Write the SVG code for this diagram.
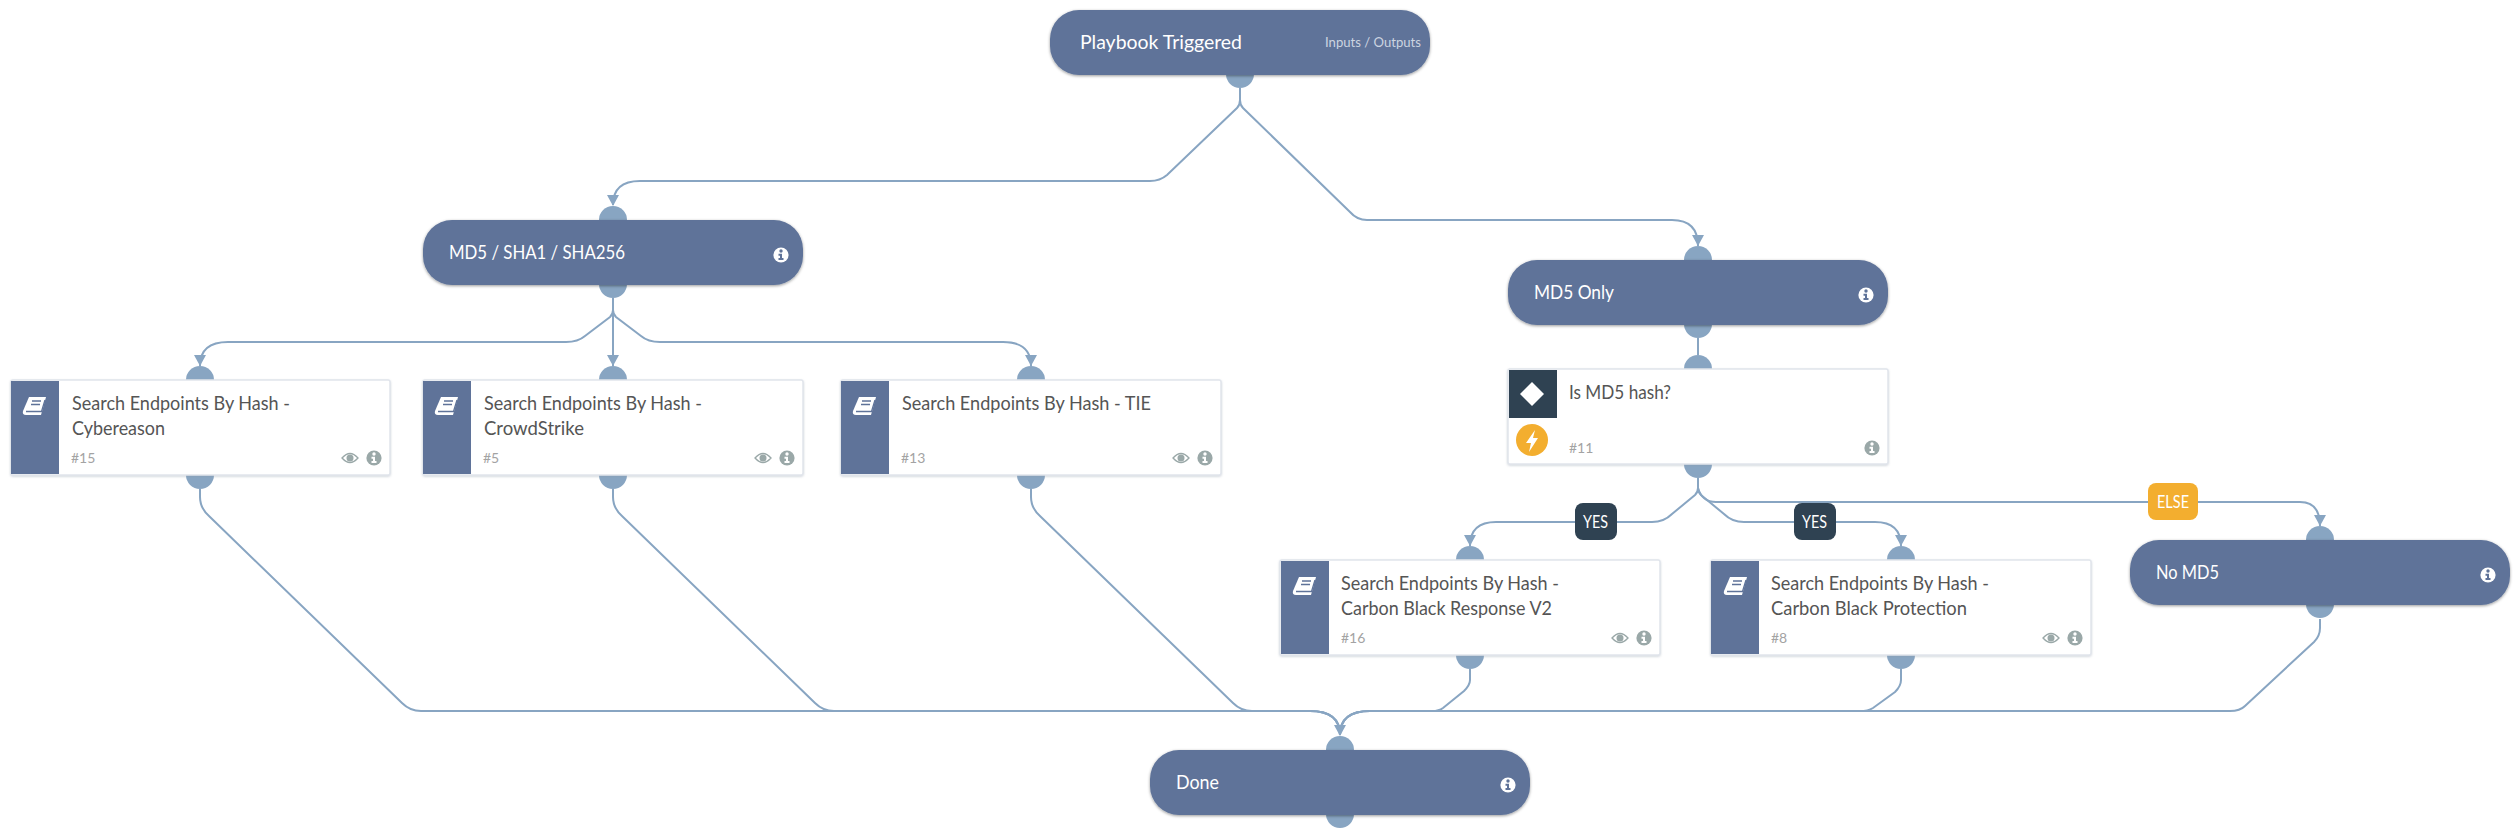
<svg xmlns="http://www.w3.org/2000/svg" width="2520" height="839" viewBox="0 0 2520 839">
<style>
text{font-family:"Lato","Noto Sans","Liberation Sans",sans-serif}
.pill{fill:#5f7399;filter:url(#ps)}
.card{fill:#fff;stroke:#e1e5ec;stroke-width:1.5;filter:url(#cs)}
.band{fill:#5f7399}
.port{fill:#88a5c2}
.pt{fill:#fff;font-size:20px}
.ct{fill:#555;font-size:20px}
.num{fill:#a3a3a3;font-size:14px}
.io{fill:#cdd5e1;font-size:14px}
.lab{fill:#fff;font-size:17px}
.con{fill:none;stroke:#88a5c2;stroke-width:2}
.ar{fill:#88a5c2}
</style>
<defs>
<filter id="ps" x="-5%" y="-20%" width="110%" height="140%"><feDropShadow dx="0" dy="1" stdDeviation="1.5" flood-color="#000" flood-opacity=".4"/></filter>
<filter id="cs" x="-5%" y="-10%" width="110%" height="125%"><feDropShadow dx="0" dy="1" stdDeviation="1" flood-color="#8a97a8" flood-opacity=".4"/></filter>
<g id="book"><path d="M6 0H23L18 18H3Q-1 18 0 14Z" fill="#fff"/><path d="M3 14.500H18.500L22 3" fill="none" stroke="#5f7399" stroke-width="1.300"/><path d="M9 4H18M8 7.500H17" stroke="#5f7399" stroke-width="1.500"/></g>
<g id="info"><circle r="7.600" fill="#9aa8a8"/><circle cy="-4" r="1.700" fill="#fff"/><path d="M-2.500 -1.200H1V3H2.500V5H-2.500V3H-1V.8H-2.500Z" fill="#fff"/></g>
<g id="infow"><circle r="7.600" fill="#fff"/><circle cy="-4" r="1.700" fill="#5f7399"/><path d="M-2.500 -1.200H1V3H2.500V5H-2.500V3H-1V.8H-2.500Z" fill="#5f7399"/></g>
<g id="eye"><path d="M-8 0Q0 -9 8 0Q0 9 -8 0Z" fill="none" stroke="#9aa8a8" stroke-width="1.300"/><circle r="3.500" fill="#9aa8a8"/></g>
<path id="ah" d="M-6 -11H6L0 0Z"/>
</defs>
<g id="connectors">
<path class="con" d="M1240 88V100Q1240 105 1237 108L1167 175Q1160 181 1150 181H640Q613 181 613 205"/>
<path class="con" d="M1240 88V100Q1240 105 1243 108L1350 212Q1357 220 1367 220H1672Q1698 220 1698 246"/>
<path class="con" d="M613 298V310Q613 314 610 317L585 336Q578 342 566 342H228Q200 342 200 366"/>
<path class="con" d="M613 298V366"/>
<path class="con" d="M613 298V310Q613 314 616 317L641 336Q648 342 660 342H1003Q1031 342 1031 366"/>
<path class="con" d="M1698 338V355"/>
<path class="con" d="M1698 478V488Q1698 492 1695 495L1672 514Q1664 522 1652 522H1496Q1470 522 1470 546"/>
<path class="con" d="M1698 478V488Q1698 492 1701 495L1724 514Q1732 522 1744 522H1875Q1901 522 1901 546"/>
<path class="con" d="M1698 478V488Q1702 502 1716 502H2300Q2320 502 2320 526"/>
<path class="con" d="M200 489V497Q200 508 209 516L402 703Q410 711 421 711H1310Q1340 711 1340 735"/>
<path class="con" d="M613 489V497Q613 508 622 516L815 703Q823 711 834 711H1310Q1340 711 1340 735"/>
<path class="con" d="M1031 489V497Q1031 508 1040 516L1233 703Q1241 711 1252 711H1310Q1340 711 1340 735"/>
<path class="con" d="M1470 669V680Q1470 685 1464 691L1443 708Q1439 711 1432 711H1370Q1340 711 1340 735"/>
<path class="con" d="M1901 669V680Q1901 686 1895 692L1873 708Q1868 711 1860 711H1370Q1340 711 1340 735"/>
<path class="con" d="M2320 619V628Q2320 636 2314 642L2245 706Q2240 711 2230 711H1370Q1340 711 1340 735"/>
<use href="#ah" class="ar" x="613" y="206"/><use href="#ah" class="ar" x="1698" y="246"/><use href="#ah" class="ar" x="200" y="366"/><use href="#ah" class="ar" x="613" y="366"/><use href="#ah" class="ar" x="1031" y="366"/><use href="#ah" class="ar" x="1470" y="546"/><use href="#ah" class="ar" x="1901" y="546"/><use href="#ah" class="ar" x="2320" y="526"/><use href="#ah" class="ar" x="1340" y="736"/>
</g>
<g id="node-start"><circle class="port" cx="1240" cy="74" r="14"/><rect class="pill" x="1050" y="10" width="380" height="65" rx="29"/><text class="pt" x="1080" y="49" textLength="162" lengthAdjust="spacingAndGlyphs">Playbook Triggered</text><text class="io" x="1325" y="47" textLength="96" lengthAdjust="spacingAndGlyphs">Inputs / Outputs</text></g>
<g id="node-md5sha"><circle class="port" cx="613" cy="220" r="14"/><circle class="port" cx="613" cy="284" r="14"/><rect class="pill" x="423" y="220" width="380" height="65" rx="29"/><text class="pt" x="449" y="259" textLength="176" lengthAdjust="spacingAndGlyphs">MD5 / SHA1 / SHA256</text><use href="#infow" x="781" y="255"/></g>
<g id="node-md5only"><circle class="port" cx="1698" cy="260" r="14"/><circle class="port" cx="1698" cy="324" r="14"/><rect class="pill" x="1508" y="260" width="380" height="65" rx="29"/><text class="pt" x="1534" y="299" textLength="80" lengthAdjust="spacingAndGlyphs">MD5 Only</text><use href="#infow" x="1866" y="295"/></g>
<g id="node-15"><circle class="port" cx="200" cy="380" r="14"/><circle class="port" cx="200" cy="475" r="14"/><rect class="card" x="11" y="380" width="379" height="95" rx="2"/><rect class="band" x="11" y="381" width="48" height="93"/><use href="#book" x="23" y="397"/><text class="ct" x="72" y="410" textLength="218" lengthAdjust="spacingAndGlyphs">Search Endpoints By Hash -</text><text class="ct" x="72" y="435" textLength="93" lengthAdjust="spacingAndGlyphs">Cybereason</text><text class="num" x="71" y="463">#15</text><use href="#eye" x="350" y="458"/><use href="#info" x="374" y="458"/></g>
<g id="node-5"><circle class="port" cx="613" cy="380" r="14"/><circle class="port" cx="613" cy="475" r="14"/><rect class="card" x="423" y="380" width="380" height="95" rx="2"/><rect class="band" x="423" y="381" width="48" height="93"/><use href="#book" x="435" y="397"/><text class="ct" x="484" y="410" textLength="218" lengthAdjust="spacingAndGlyphs">Search Endpoints By Hash -</text><text class="ct" x="484" y="435" textLength="100" lengthAdjust="spacingAndGlyphs">CrowdStrike</text><text class="num" x="483" y="463">#5</text><use href="#eye" x="763" y="458"/><use href="#info" x="787" y="458"/></g>
<g id="node-13"><circle class="port" cx="1031" cy="380" r="14"/><circle class="port" cx="1031" cy="475" r="14"/><rect class="card" x="841" y="380" width="380" height="95" rx="2"/><rect class="band" x="841" y="381" width="48" height="93"/><use href="#book" x="853" y="397"/><text class="ct" x="902" y="410" textLength="249" lengthAdjust="spacingAndGlyphs">Search Endpoints By Hash - TIE</text><text class="num" x="901" y="463">#13</text><use href="#eye" x="1181" y="458"/><use href="#info" x="1205" y="458"/></g>
<g id="node-11"><circle class="port" cx="1698" cy="369" r="14"/><circle class="port" cx="1698" cy="464" r="14"/><rect class="card" x="1508" y="369" width="380" height="95" rx="2"/><rect x="1509" y="370" width="48" height="48" fill="#2f4252"/><path d="M1532 382L1544 394L1532 406L1520 394Z" fill="#fff"/><circle cx="1532" cy="440" r="16" fill="#f3ae2f"/><path d="M1535 430L1526 443H1531L1529 452L1538 438H1533Z" fill="#fff"/><text class="ct" x="1569" y="399" textLength="102" lengthAdjust="spacingAndGlyphs">Is MD5 hash?</text><text class="num" x="1569" y="453">#11</text><use href="#info" x="1872" y="448"/></g>
<g id="node-16"><circle class="port" cx="1470" cy="560" r="14"/><circle class="port" cx="1470" cy="655" r="14"/><rect class="card" x="1280" y="560" width="380" height="95" rx="2"/><rect class="band" x="1281" y="561" width="48" height="93"/><use href="#book" x="1293" y="577"/><text class="ct" x="1341" y="590" textLength="218" lengthAdjust="spacingAndGlyphs">Search Endpoints By Hash -</text><text class="ct" x="1341" y="615" textLength="211" lengthAdjust="spacingAndGlyphs">Carbon Black Response V2</text><text class="num" x="1341" y="643">#16</text><use href="#eye" x="1620" y="638"/><use href="#info" x="1644" y="638"/></g>
<g id="node-8"><circle class="port" cx="1901" cy="560" r="14"/><circle class="port" cx="1901" cy="655" r="14"/><rect class="card" x="1711" y="560" width="380" height="95" rx="2"/><rect class="band" x="1711" y="561" width="48" height="93"/><use href="#book" x="1724" y="577"/><text class="ct" x="1771" y="590" textLength="218" lengthAdjust="spacingAndGlyphs">Search Endpoints By Hash -</text><text class="ct" x="1771" y="615" textLength="196" lengthAdjust="spacingAndGlyphs">Carbon Black Protection</text><text class="num" x="1771" y="643">#8</text><use href="#eye" x="2051" y="638"/><use href="#info" x="2075" y="638"/></g>
<g id="node-nomd5"><circle class="port" cx="2320" cy="540" r="14"/><circle class="port" cx="2320" cy="604" r="14"/><rect class="pill" x="2130" y="540" width="380" height="65" rx="29"/><text class="pt" x="2156" y="579" textLength="63" lengthAdjust="spacingAndGlyphs">No MD5</text><use href="#infow" x="2488" y="575"/></g>
<g id="node-done"><circle class="port" cx="1340" cy="750" r="14"/><circle class="port" cx="1340" cy="814" r="14"/><rect class="pill" x="1150" y="750" width="380" height="65" rx="29"/><text class="pt" x="1176" y="789" textLength="43" lengthAdjust="spacingAndGlyphs">Done</text><use href="#infow" x="1508" y="785"/></g>
<g id="labels">
<rect x="1575" y="503" width="42" height="37" rx="8" fill="#2f4252"/><text class="lab" x="1583" y="528" textLength="25" lengthAdjust="spacingAndGlyphs">YES</text>
<rect x="1794" y="503" width="42" height="37" rx="8" fill="#2f4252"/><text class="lab" x="1802" y="528" textLength="25" lengthAdjust="spacingAndGlyphs">YES</text>
<rect x="2148" y="483" width="50" height="37" rx="8" fill="#f3ae2f"/><text class="lab" x="2157" y="508" textLength="32" lengthAdjust="spacingAndGlyphs">ELSE</text>
</g>
</svg>
